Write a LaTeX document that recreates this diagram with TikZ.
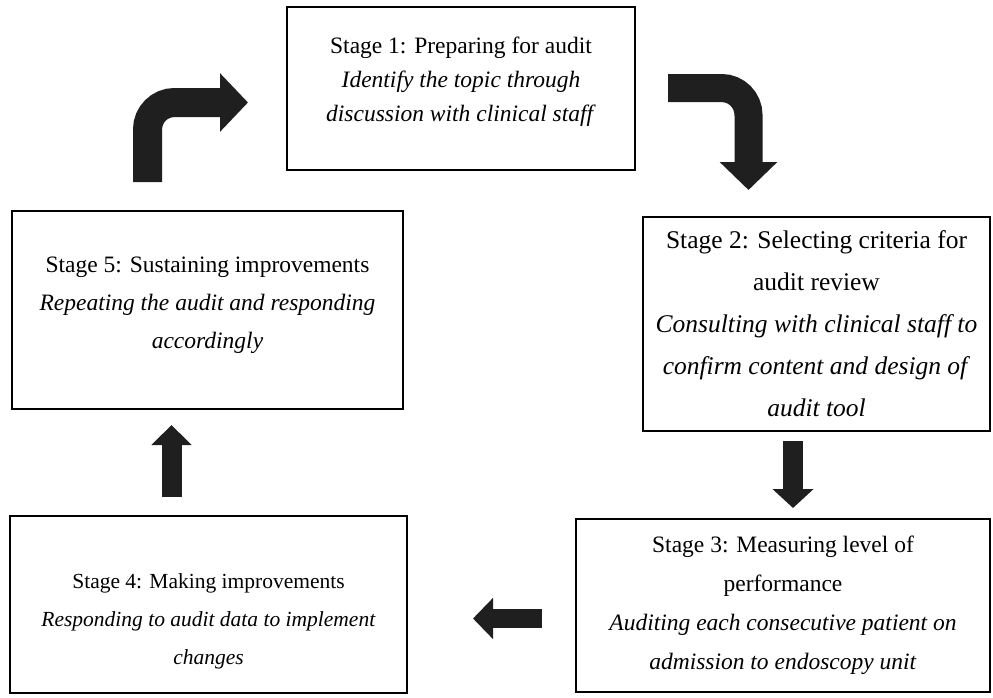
\documentclass[tikz,border=0pt]{standalone}
\usepackage{fontspec}
\setmainfont{Liberation Serif}
\usetikzlibrary{arrows.meta}
\tikzset{
  stagebox/.style={draw, line width=1.6pt, inner sep=0pt},
  stagetext/.style n args={2}{align=center, inner sep=0pt,
    font=\fontsize{#1}{#2}\selectfont},
  blockarrow/.style n args={3}{line width=#1, draw=black!88,
    -{Triangle[width=#2, length=#3]}}
}
\begin{document}
\begin{tikzpicture}[x=1pt, y=-1pt]
  \useasboundingbox (0,0) rectangle (993,697);
  % the five stage boxes, round the cycle
  \node[stagebox, minimum width=348pt, minimum height=163pt] (s1) at (461,88.5) {};
  \node[stagebox, minimum width=347pt, minimum height=214pt] (s2) at (816.5,324) {};
  \node[stagebox, minimum width=414pt, minimum height=173pt] (s3) at (783,605.5) {};
  \node[stagebox, minimum width=397pt, minimum height=177pt] (s4) at (208.5,604.5) {};
  \node[stagebox, minimum width=391pt, minimum height=198pt] (s5) at (207.5,310) {};
  % what each stage says
  \node[stagetext={23.5}{34}] (t1) at ([yshift=7pt]s1.center)
    {Stage 1: Preparing for audit\\ \textit{Identify the topic through}\\ \textit{discussion with clinical staff}};
  \node[stagetext={25.5}{42}] (t2) at (s2.center)
    {Stage 2: Selecting criteria for\\ audit review\\ \textit{Consulting with clinical staff to}\\
     \textit{confirm content and design of}\\ \textit{audit tool}};
  \node[stagetext={23.5}{39}] (t3) at (s3.center)
    {Stage 3: Measuring level of\\ performance\\ \textit{Auditing each consecutive patient on}\\
     \textit{admission to endoscopy unit}};
  \node[stagetext={21.5}{38}] (t4) at ([yshift=-17pt]s4.center)
    {Stage 4: Making improvements\\ \textit{Responding to audit data to implement}\\ \textit{changes}};
  \node[stagetext={23.5}{38}] (t5) at ([yshift=4.5pt]s5.center)
    {Stage 5: Sustaining improvements\\ \textit{Repeating the audit and responding}\\ \textit{accordingly}};
  % the bent arrows at the top
  \draw[blockarrow={29pt}{57pt}{28pt}, rounded corners=27pt]
    (147.5,182) -- (147.5,102.5) -- (248,102.5);
  \draw[blockarrow={28pt}{56pt}{28pt}, rounded corners=27pt]
    (668,88) -- (748.5,88) -- (748.5,190);
  % the straight ones between the lower stages
  \draw[blockarrow={20pt}{40pt}{19pt}] (793,441) -- (793,508);
  \draw[blockarrow={19pt}{40pt}{20pt}] (542,618.5) -- (473,618.5);
  \draw[blockarrow={20pt}{39pt}{20pt}] (171.5,497) -- (171.5,425);
\end{tikzpicture}
\end{document}
